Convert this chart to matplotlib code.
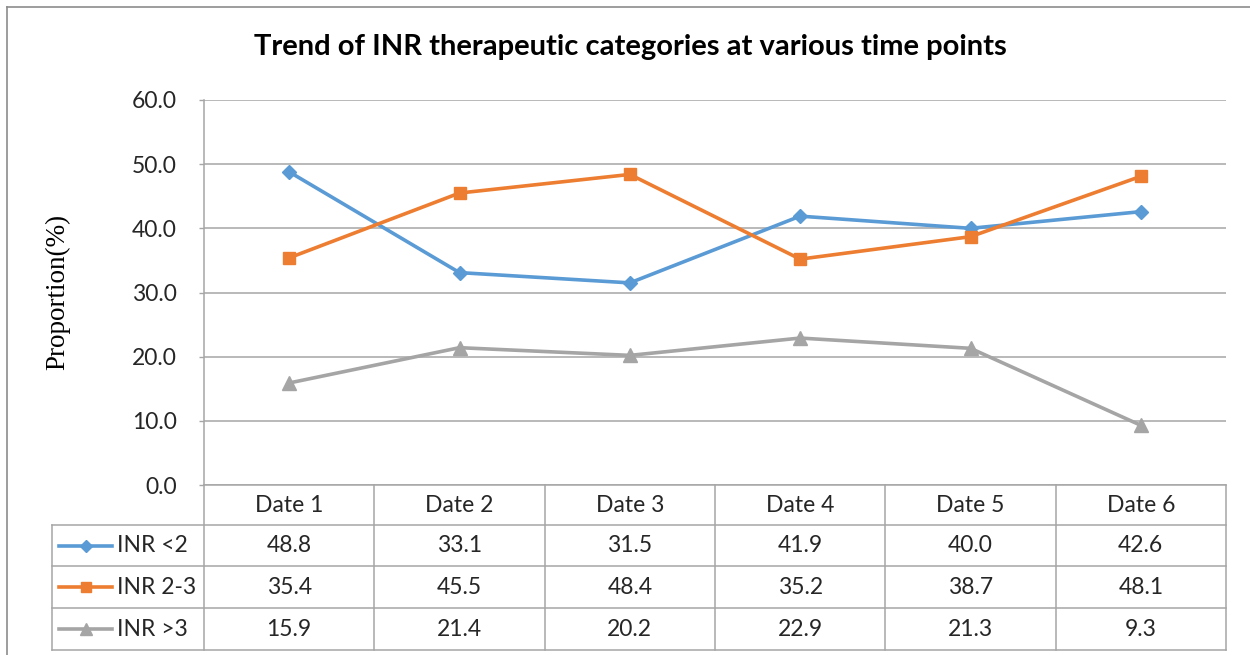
import numpy as np
import matplotlib
matplotlib.use("Agg")
import matplotlib.pyplot as plt
from matplotlib.lines import Line2D
from matplotlib.transforms import blended_transform_factory

# data
dates = ["Date 1", "Date 2", "Date 3", "Date 4", "Date 5", "Date 6"]
inr_low = [48.8, 33.1, 31.5, 41.9, 40.0, 42.6]
inr_mid = [35.4, 45.5, 48.4, 35.2, 38.7, 48.1]
inr_high = [15.9, 21.4, 20.2, 22.9, 21.3, 9.3]
series_names = ["INR <2", "INR 2-3", "INR >3"]
yticks = [0, 10, 20, 30, 40, 50, 60]

colors = ["#5B9BD5", "#ED7D31", "#A5A5A5"]
markers = ["D", "s", "^"]
msizes = [7.5, 8.5, 9.5]
grid_c = "#A6A6A6"
txt_c = "#262626"
font = "Lato"
fs = 16.5

W, H = 1250, 655
def fx(px):
    return px / W
def fy(py):
    return 1 - py / H

fig = plt.figure(figsize=(12.5, 6.55), dpi=100)
ax = fig.add_axes([fx(204), fy(485), fx(1226) - fx(204), fy(100) - fy(485)])

series = [inr_low, inr_mid, inr_high]
x = np.arange(len(dates))
for vals, c, m, ms in zip(series, colors, markers, msizes):
    ax.plot(x, vals, color=c, lw=2.6, marker=m, ms=ms, mec=c, mfc=c, solid_joinstyle="round", zorder=3)

ax.set_xlim(-0.5, len(dates) - 0.5)
ax.set_ylim(0, 60)
ax.set_yticks(yticks)
ax.set_yticklabels([f"{v:.1f}" for v in yticks], fontsize=fs, family=font, color=txt_c)
ax.tick_params(axis="y", length=3.5, width=1, color=grid_c, pad=16)
ax.set_xticks([])
ax.grid(axis="y", color=grid_c, lw=1.1)
ax.set_axisbelow(True)
for s in ["top", "right", "bottom"]:
    ax.spines[s].set_visible(False)
ax.spines["left"].set_color(grid_c)
ax.spines["left"].set_linewidth(1.1)

fig.text(fx(58), fy(292), "Proportion(%)", rotation=90, ha="center", va="center",
         family="Liberation Serif", fontsize=19.5, color="black")

fig.text(0.504, fy(47), "Trend of INR therapeutic categories at various time points",
         ha="center", va="center", fontsize=21, fontweight="bold", family=font, color="black")

# data table below the plot
tr = blended_transform_factory(ax.transData, fig.transFigure)
row_y = [485, 525, 566, 608, 650]
col_edges = np.arange(len(dates) + 1) - 0.5
lkw = dict(color=grid_c, lw=1.1, clip_on=False)
ax.plot([col_edges[0], col_edges[-1]], [fy(485)] * 2, transform=tr, **lkw)
for ce in col_edges:
    ax.plot([ce, ce], [fy(485), fy(650)], transform=tr, **lkw)
for py in row_y[1:]:
    fig.add_artist(Line2D([fx(52), fx(1226)], [fy(py)] * 2, color=grid_c, lw=1.1))
fig.add_artist(Line2D([fx(52), fx(52)], [fy(525), fy(650)], color=grid_c, lw=1.1))

for i, d in enumerate(dates):
    ax.text(i, fy(505), d, transform=tr, ha="center", va="center", fontsize=fs, family=font, color=txt_c)
for r, (vals, name, c, m, ms) in enumerate(zip(series, series_names, colors, markers, msizes)):
    yc = fy((row_y[r + 1] + row_y[r + 2]) / 2)
    for i, v in enumerate(vals):
        ax.text(i, yc, f"{v:.1f}", transform=tr, ha="center", va="center", fontsize=fs, family=font, color=txt_c)
    fig.add_artist(Line2D([fx(59), fx(112)], [yc, yc], color=c, lw=2.6))
    fig.add_artist(Line2D([fx(85.5)], [yc], color=c, marker=m, ms=ms - 1, mec=c, mfc=c, lw=0))
    fig.text(fx(117), yc, name, ha="left", va="center", fontsize=fs, family=font, color=txt_c)

# outer chart border
fig.add_artist(Line2D([fx(7), fx(7)], [fy(7), 0], color="#8C8C8C", lw=1.2))
fig.add_artist(Line2D([fx(7), 1], [fy(7), fy(7)], color="#8C8C8C", lw=1.2))

fig.savefig("out.png", dpi=100)
